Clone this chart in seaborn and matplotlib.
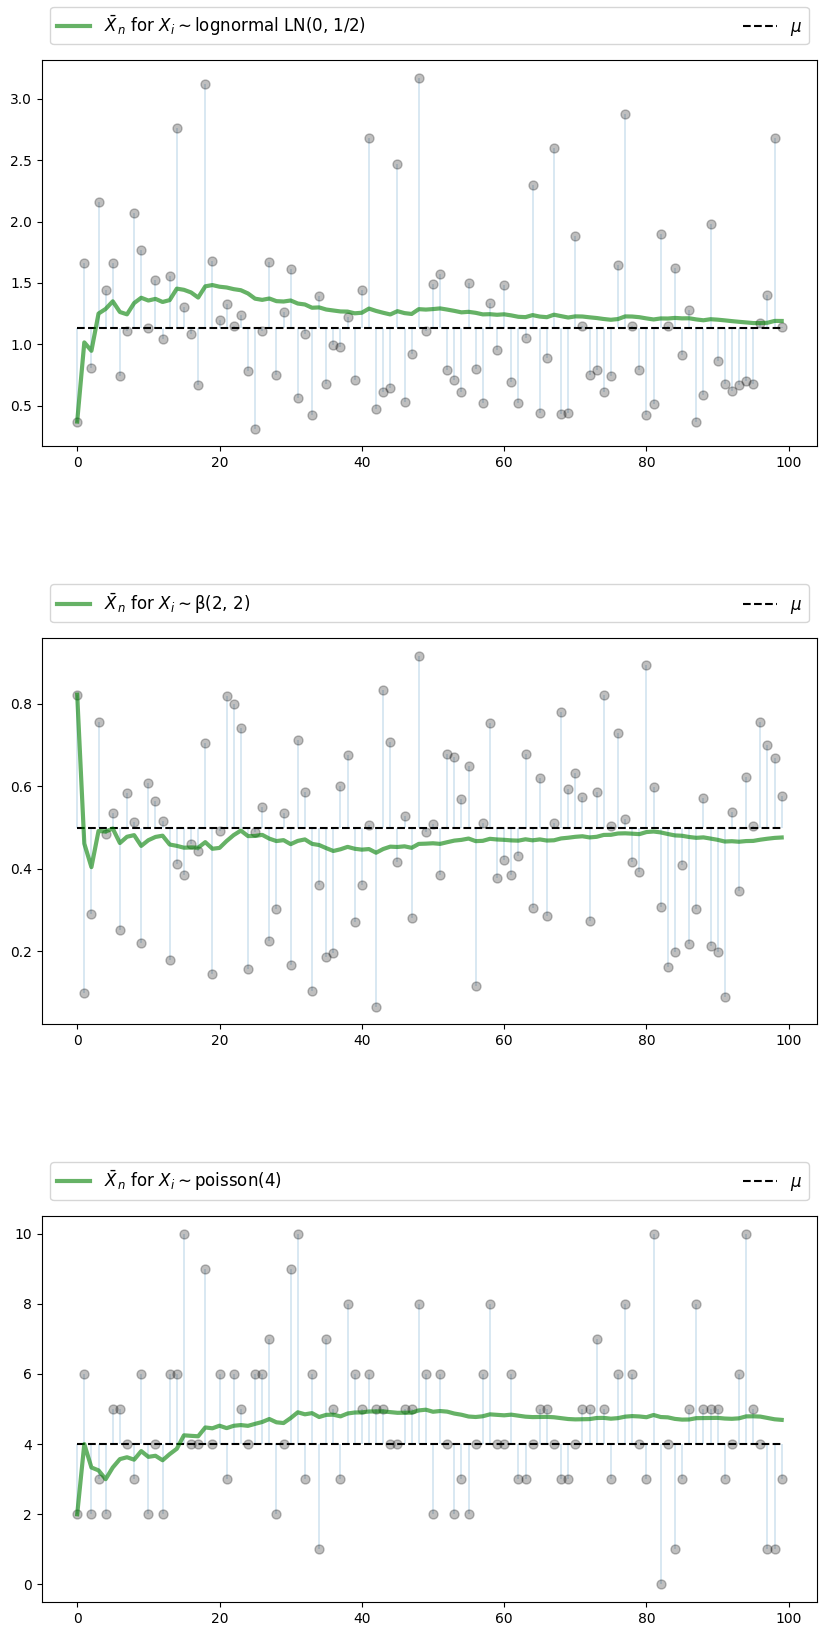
import numpy as np
import matplotlib
matplotlib.use("Agg")
import matplotlib.pyplot as plt
import seaborn as sns

# sample draws, one list per distribution
lognormal_draws = [
    0.37, 1.66, 0.81, 2.16, 1.44, 1.66, 0.74, 1.11, 2.07, 1.77,
    1.13, 1.52, 1.04, 1.56, 2.76, 1.30, 1.08, 0.67, 3.12, 1.68,
    1.20, 1.33, 1.15, 1.24, 0.78, 0.31, 1.11, 1.67, 0.75, 1.26,
    1.61, 0.56, 1.08, 0.42, 1.39, 0.68, 0.99, 0.98, 1.22, 0.71,
    1.44, 2.68, 0.47, 0.61, 0.64, 2.47, 0.53, 0.92, 3.17, 1.11,
    1.49, 1.57, 0.79, 0.71, 0.61, 1.50, 0.80, 0.52, 1.34, 0.95,
    1.48, 0.69, 0.52, 1.05, 2.30, 0.44, 0.89, 2.60, 0.43, 0.44,
    1.88, 1.15, 0.75, 0.79, 0.61, 0.74, 1.65, 2.88, 1.15, 0.79,
    0.42, 0.51, 1.90, 1.15, 1.62, 0.91, 1.28, 0.37, 0.59, 1.98,
    0.86, 0.68, 0.62, 0.67, 0.70, 0.68, 1.17, 1.40, 2.68, 1.14,
]
beta_draws = [
    0.822, 0.100, 0.290, 0.755, 0.484, 0.534, 0.252, 0.584, 0.513, 0.221,
    0.607, 0.564, 0.517, 0.180, 0.411, 0.384, 0.461, 0.442, 0.705, 0.145,
    0.491, 0.819, 0.800, 0.742, 0.158, 0.489, 0.550, 0.226, 0.302, 0.535,
    0.168, 0.712, 0.586, 0.105, 0.360, 0.187, 0.195, 0.601, 0.675, 0.270,
    0.360, 0.506, 0.066, 0.833, 0.707, 0.416, 0.528, 0.282, 0.916, 0.489,
    0.509, 0.384, 0.678, 0.671, 0.568, 0.649, 0.115, 0.512, 0.753, 0.377,
    0.421, 0.384, 0.431, 0.678, 0.305, 0.620, 0.285, 0.511, 0.780, 0.593,
    0.632, 0.573, 0.274, 0.586, 0.821, 0.503, 0.729, 0.520, 0.416, 0.393,
    0.894, 0.597, 0.307, 0.162, 0.199, 0.408, 0.218, 0.303, 0.571, 0.214,
    0.199, 0.090, 0.537, 0.345, 0.622, 0.503, 0.755, 0.701, 0.668, 0.576,
]
poisson_draws = [
    2, 6, 2, 3, 2, 5, 5, 4, 3, 6,
    2, 4, 2, 6, 6, 10, 4, 4, 9, 4,
    6, 3, 6, 5, 4, 6, 6, 7, 2, 4,
    9, 10, 3, 6, 1, 7, 5, 3, 8, 6,
    5, 6, 5, 5, 4, 4, 5, 5, 8, 6,
    2, 6, 4, 2, 3, 2, 4, 6, 8, 4,
    4, 6, 3, 3, 4, 5, 5, 4, 3, 3,
    4, 5, 5, 7, 5, 3, 6, 8, 6, 4,
    3, 10, 0, 4, 1, 3, 5, 8, 5, 5,
    5, 3, 4, 6, 10, 5, 4, 1, 1, 3,
]

names = ["lognormal LN(0, 1/2)", "β(2, 2)", "poisson(4)"]
means = [np.exp(0.125), 0.5, 4.0]
samples = [lognormal_draws, beta_draws, poisson_draws]

fig, axes = plt.subplots(3, 1, figsize=(8.26, 16.35), dpi=100)
fig.subplots_adjust(left=0.0508, right=0.989, bottom=0.0202, top=0.963, hspace=0.497)

for ax, name, mu, data in zip(axes, names, means, samples):
    data = np.array(data, dtype=float)
    n = len(data)
    idx = np.arange(n)
    sample_mean = np.cumsum(data) / np.arange(1, n + 1)

    # the draws
    sns.scatterplot(x=idx, y=data, color="k", alpha=0.25, s=42,
                    edgecolor="k", linewidth=1.0, ax=ax, zorder=2)
    # running mean
    sns.lineplot(x=idx, y=sample_mean, color="green", alpha=0.6, lw=3,
                 label=r"$\bar X_n$ for $X_i \sim$" + name, ax=ax, zorder=4)
    # stems back to the true mean
    ax.vlines(idx, mu, data, color="C0", alpha=0.2, lw=1.2, zorder=1)
    ax.hlines(mu, 0, n - 1, colors="k", linestyles="--", lw=1.5, label=r"$\mu$", zorder=3)

    ax.set_xticks([0, 20, 40, 60, 80, 100])
    ax.legend(bbox_to_anchor=(0, 1.02, 1, .102), loc=3, ncol=2,
              mode="expand", fontsize=12)

fig.savefig("out.png", dpi=100)
